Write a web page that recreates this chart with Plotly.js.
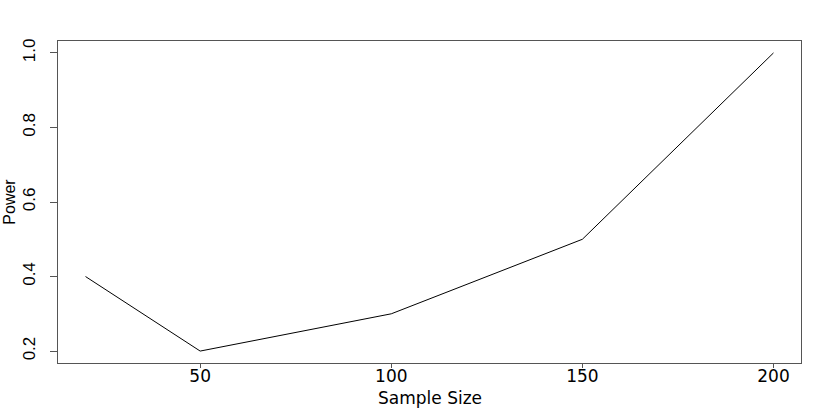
<!DOCTYPE html>
<html>
<head>
<meta charset="utf-8">
<script src="https://cdn.plot.ly/plotly-3.0.1.min.js"></script>
<style>
html,body{margin:0;padding:0;background:#fff;}
#chart{width:830px;height:415px;}
</style>
</head>
<body>
<div id="chart"></div>
<script>
var sampleSize = [20, 50, 100, 150, 200];
var power = [0.4, 0.2, 0.3, 0.5, 1.0];
var xTicks = [50, 100, 150, 200];
var yTicks = [0.2, 0.4, 0.6, 0.8, 1.0];
var xLabel = "Sample Size";
var yLabel = "Power";

var trace = {
  x: sampleSize,
  y: power,
  type: "scatter",
  mode: "lines",
  line: {color: "#000", width: 1},
  hoverinfo: "skip"
};

var layout = {
  width: 830,
  height: 415,
  margin: {l: 58.3, r: 29.3, t: 40.7, b: 51.7, pad: 0},
  paper_bgcolor: "#fff",
  plot_bgcolor: "#fff",
  showlegend: false,
  xaxis: {
    range: [12.8, 207.2],
    tickvals: xTicks,
    ticktext: xTicks.map(String),
    ticks: "outside",
    ticklen: 4,
    tickwidth: 1,
    tickcolor: "#555",
    showline: true,
    mirror: true,
    linecolor: "#555",
    linewidth: 1,
    showgrid: false,
    zeroline: false,
    ticklabelstandoff: -6,
    tickfont: {family: "DejaVu Sans", size: 17, color: "#000"},
    automargin: false
  },
  yaxis: {
    range: [0.168, 1.032],
    tickvals: yTicks,
    ticktext: yTicks.map(function(v){return v.toFixed(1);}),
    ticks: "outside",
    ticklen: 7,
    tickwidth: 1,
    tickcolor: "#555",
    tickangle: -90,
    showline: true,
    mirror: true,
    linecolor: "#555",
    linewidth: 1,
    showgrid: false,
    zeroline: false,
    ticklabelstandoff: 8,
    tickfont: {family: "Liberation Sans", size: 17, color: "#000"},
    automargin: false
  },
  annotations: [
    {
      text: xLabel, xref: "paper", yref: "paper",
      x: 0.5, y: -0.1076, xanchor: "center", yanchor: "middle",
      showarrow: false,
      font: {family: "DejaVu Sans", size: 17, color: "#000"}
    },
    {
      text: yLabel, xref: "paper", yref: "paper",
      x: -0.0664, y: 0.5, xanchor: "center", yanchor: "middle",
      textangle: -90,
      showarrow: false,
      font: {family: "Liberation Sans", size: 16, color: "#000"}
    }
  ]
};

Plotly.newPlot("chart", [trace], layout, {staticPlot: true, displayModeBar: false});
</script>
</body>
</html>
